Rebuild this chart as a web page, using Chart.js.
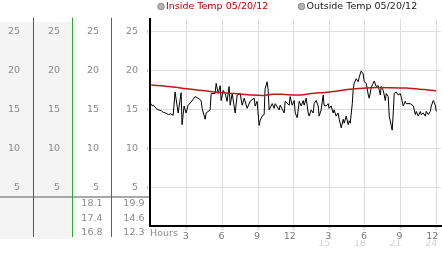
<!DOCTYPE html>
<html>
<head>
<meta charset="utf-8">
<script src="https://cdn.jsdelivr.net/npm/chart.js@4"></script>
<style>
  html, body { margin: 0; padding: 0; background: #fff; }
  canvas { display: block; }
</style>
</head>
<body>
<canvas id="myChart" width="442" height="253"></canvas>
<script>
// values
const seriesLabels = ["Inside Temp 05/20/12", "Outside Temp 05/20/12"];

const hoursIn = [0, 1.5, 3, 4.5, 6, 7, 8.5, 9.5, 10.2, 11, 12.3, 13.5, 15, 16.5, 17.5, 18.5, 20, 21.5, 23, 24];
const insideTemp = [18.1, 17.9, 17.6, 17.35, 17.1, 17.0, 16.8, 16.75, 16.9, 16.9, 16.8, 17.0, 17.2, 17.5, 17.65, 17.75, 17.75, 17.7, 17.5, 17.35];

const hoursOut = [0, 0.1, 0.2, 0.4, 0.6, 0.85, 1.0, 1.2, 1.45, 1.65, 1.85, 2.01, 2.27, 2.52, 2.6, 2.77, 2.94,
  3.11, 3.36, 3.7, 3.95, 4.2, 4.29, 4.54, 4.63, 4.96, 5.05, 5.38, 5.47, 5.64, 5.81, 5.89, 6.06, 6.23, 6.39,
  6.56, 6.65, 6.82, 7.07, 7.24, 7.49, 7.66, 7.83, 8.08, 8.33, 8.67, 8.75, 8.92, 9.09, 9.17, 9.34, 9.51, 9.59,
  9.76, 9.85, 9.93, 10.19, 10.35, 10.44, 10.77, 10.86, 11.2, 11.28, 11.62, 11.7, 11.87, 12.04, 12.13, 12.29,
  12.38, 12.46, 12.63, 12.8, 12.88, 13.05, 13.22, 13.3, 13.47, 13.64, 13.72, 13.89, 14.06, 14.14, 14.31, 14.48,
  14.56, 14.73, 14.9, 14.98, 15.15, 15.32, 15.4, 15.57, 15.74, 15.83, 16.0, 16.17, 16.25, 16.42, 16.59, 16.67,
  16.76, 16.93, 17.01, 17.09, 17.26, 17.43, 17.51, 17.68, 17.85, 17.94, 18.11, 18.28, 18.36, 18.53, 18.78,
  18.95, 19.12, 19.29, 19.37, 19.54, 19.71, 19.79, 19.96, 20.04, 20.21, 20.29, 20.38, 20.46, 20.63, 20.8,
  20.97, 21.05, 21.22, 21.39, 21.48, 21.81, 22.07, 22.24, 22.32, 22.49, 22.66, 22.74, 22.91, 23.08, 23.16,
  23.33, 23.5, 23.58, 23.75, 23.92, 24.0];
const outsideTemp = [15.7, 15.4, 15.5, 15.1, 14.9, 14.8, 14.6, 14.5, 14.3, 14.4, 14.2, 17.2, 14.5, 17.1, 13.0, 15.4, 14.5,
  15.5, 15.9, 16.6, 16.4, 16.1, 15.1, 13.7, 14.5, 14.9, 17.0, 17.0, 18.3, 17.0, 18.0, 16.1, 17.4, 17.0, 16.0,
  17.9, 15.5, 17.0, 14.5, 16.8, 17.0, 15.5, 16.4, 15.1, 16.0, 16.4, 15.4, 16.0, 12.9, 13.5, 14.1, 14.3, 17.6,
  18.5, 17.4, 14.9, 15.7, 15.1, 15.7, 14.9, 15.5, 14.5, 16.0, 15.5, 16.6, 15.5, 16.1, 14.5, 13.9,
  14.9, 16.0, 15.4, 16.1, 15.5, 16.4, 14.5, 14.1, 14.9, 14.5, 15.7, 16.1, 15.4, 14.1, 14.9, 16.8,
  15.5, 15.4, 15.7, 15.1, 15.4, 14.5, 14.9, 14.1, 14.5, 13.7, 12.6, 13.7, 13.2, 14.1, 13.0, 13.5,
  13.2, 15.7, 17.6, 18.3, 18.9, 18.5, 19.1, 19.9, 19.5, 18.5, 18.3, 16.8, 16.4, 17.8, 18.6,
  17.9, 18.0, 16.8, 17.9, 17.4, 16.1, 17.0, 16.6, 14.1, 12.9, 12.3, 14.5, 17.0, 17.2, 16.8,
  17.0, 16.6, 15.4, 16.0, 15.7, 15.7, 15.4, 14.3, 14.7, 14.1, 14.7, 14.3, 14.5, 14.1, 14.7,
  14.3, 14.7, 15.4, 16.1, 15.5, 14.7];

const statsInside = [18.1, 17.4, 16.8];
const statsOutside = [19.9, 14.6, 12.3];

const yTicks = [5, 10, 15, 20, 25];
const xTicks = [3, 6, 9, 12, 15, 18, 21, 24];
const xLabels = ["3", "6", "9", "12", "3", "6", "9", "12"];
const xLabels2 = ["", "", "", "", "15", "18", "21", "24"];

const font = { family: "DejaVu Sans", size: 9.5 };
const grey = "#8a8a8a";

function toPoints(xs, ys) {
  return xs.map((x, i) => ({ x: x, y: ys[i] }));
}

// the three label columns on the left of the plot
function yColumn(weight, width, pad) {
  return {
    type: "linear",
    position: "left",
    weight: weight,
    min: 0,
    max: 26.6,
    afterFit: (s) => { s.width = width; },
    afterBuildTicks: (s) => { s.ticks = yTicks.map((v) => ({ value: v })); },
    grid: { display: false, drawTicks: false },
    border: { display: false },
    ticks: { color: grey, font: font, padding: pad }
  };
}

const panel = {
  id: "panel",
  beforeDraw(chart) {
    const { ctx, chartArea, scales } = chart;
    const cols = [scales.c1, scales.c2, scales.c3];
    ctx.save();
    ctx.fillStyle = "#f4f4f4";
    ctx.fillRect(0, chartArea.top + 3, cols[1].right, 239 - chartArea.top - 3);
    ctx.fillStyle = "#a8a8a8";
    ctx.fillRect(0, 196, chartArea.left - 1, 2);
    ["#2456dc", "#2ea82e", "#e02828"].forEach((col, i) => {
      const x = Math.round(cols[i].right) + 0.5;
      ctx.strokeStyle = col;
      ctx.lineWidth = 1;
      ctx.beginPath();
      ctx.moveTo(x, chartArea.top - 1);
      ctx.lineTo(x, 237);
      ctx.stroke();
    });
    ctx.font = '9.5px "DejaVu Sans"';
    ctx.fillStyle = grey;
    ctx.textAlign = "right";
    ctx.textBaseline = "middle";
    statsInside.forEach((v, i) => ctx.fillText(v.toFixed(1), cols[2].right - 8.5, 204 + i * 14.3));
    statsOutside.forEach((v, i) => ctx.fillText(v.toFixed(1), scales.y.right - 5.5, 204 + i * 14.3));
    ctx.restore();
  },
  afterDraw(chart) {
    const ctx = chart.ctx;
    const spots = [[161, "#c00000"], [301.5, "#1a1a1a"]];
    ctx.save();
    ctx.font = '9.5px "DejaVu Sans"';
    ctx.textAlign = "left";
    ctx.textBaseline = "middle";
    chart.data.datasets.forEach((ds, i) => {
      const [cx, col] = spots[i];
      ctx.beginPath();
      ctx.arc(cx, 6.5, 3.3, 0, Math.PI * 2);
      ctx.fillStyle = "#b4b4b4";
      ctx.fill();
      ctx.strokeStyle = "#8c8c8c";
      ctx.lineWidth = 1;
      ctx.stroke();
      ctx.fillStyle = col;
      ctx.fillText(ds.label, cx + 5, 7);
    });
    ctx.restore();
  }
};

const data = {
  datasets: [
    {
      label: seriesLabels[0],
      data: toPoints(hoursIn, insideTemp),
      borderColor: "#c01818",
      borderWidth: 1.5,
      pointRadius: 0,
      tension: 0.3
    },
    {
      label: seriesLabels[1],
      data: toPoints(hoursOut, outsideTemp),
      borderColor: "#000",
      borderWidth: 1,
      pointRadius: 0,
      tension: 0
    }
  ]
};

const config = {
  type: "line",
  data: data,
  options: {
    responsive: false,
    animation: false,
    layout: { padding: { top: 13, right: 1, left: 0, bottom: 0 } },
    plugins: { legend: { display: false }, tooltip: { enabled: false } },
    scales: {
      c1: yColumn(3, 33, 13),
      c2: yColumn(2, 39, 12),
      c3: yColumn(1, 39, 12),
      y: {
        type: "linear",
        position: "left",
        weight: 0,
        min: 0,
        max: 26.6,
        afterFit: (s) => { s.width = 39; },
        afterBuildTicks: (s) => { s.ticks = yTicks.map((v) => ({ value: v })); },
        grid: { color: "#dedede", tickColor: "#c4c4c4", tickLength: 3, tickWidth: 3, tickBorderDash: [1, 1] },
        border: { color: "#000", width: 2 },
        ticks: { color: grey, font: font, padding: 9 }
      },
      x: {
        type: "linear",
        position: "bottom",
        weight: 0,
        min: -0.1,
        max: 24.4,
        afterFit: (s) => { s.height = 14; },
        afterBuildTicks: (s) => { s.ticks = xTicks.map((v) => ({ value: v })); },
        grid: { color: "#dedede", tickColor: "#c4c4c4", tickLength: 5, tickWidth: 2, tickBorderDash: [1, 1] },
        border: { color: "#000", width: 2 },
        ticks: {
          color: "#777", font: font, padding: 0, align: "end", labelOffset: 2,
          maxRotation: 0, autoSkip: false, callback: (v, i) => xLabels[i]
        },
        title: { display: true, text: "Hours", align: "start", color: grey, font: font, padding: { top: 0, bottom: 1 } }
      },
      x2: {
        type: "linear",
        position: "bottom",
        weight: 1,
        min: -0.1,
        max: 24.4,
        afterFit: (s) => { s.height = 13; },
        afterBuildTicks: (s) => { s.ticks = xTicks.map((v) => ({ value: v })); },
        grid: { display: false, drawTicks: false },
        border: { display: false },
        ticks: {
          color: "#d4d4d4", font: font, padding: -2, align: "end", labelOffset: 1,
          maxRotation: 0, autoSkip: false, callback: (v, i) => xLabels2[i]
        }
      }
    }
  },
  plugins: [panel]
};

const myChart = new Chart(document.getElementById("myChart"), config);
</script>
</body>
</html>
